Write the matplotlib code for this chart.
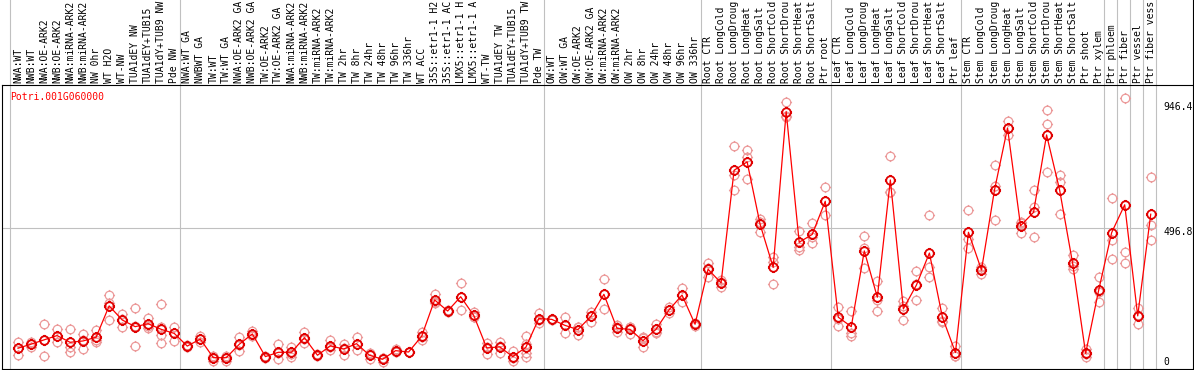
import matplotlib
matplotlib.use("Agg")
import matplotlib.pyplot as plt
import matplotlib.path as mpath
import matplotlib.transforms as mtrans
import numpy as np

# ---------------- data ----------------
gene_id = "Potri.001G060000"

labels_nw = ["NWA:WT", "NWB:WT", "NWA:OE-ARK2", "NWB:OE-ARK2", "NWA:miRNA-ARK2",
             "NWB:miRNA-ARK2", "NW 0hr", "WT H2O", "WT-NW", "TUA1dEY NW",
             "TUA1dEY+TUB15", "TUA1dY+TUB9 NW", "Pde NW"]
means_nw = [51, 66, 82, 98, 73, 78, 92, 208, 156, 131, 142, 121, 106]
reps_nw = [[75, 26, 52], [73, 57, 67], [140, 22, 82], [122, 73, 98], [122, 36, 57],
           [104, 47, 80], [119, 75, 82], [247, 156, 220], [177, 128, 160],
           [199, 60, 133], [164, 127, 135], [215, 99, 69, 130], [131, 79, 108]]

labels_tw = ["NWA:WT GA", "NWBWT GA", "TW:WT", "TW:WT GA", "NWA:OE-ARK2 GA",
             "NWB:OE-ARK2 GA", "TW:OE-ARK2", "TW:OE-ARK2 GA", "NWA:miRNA-ARK2",
             "NWB:miRNA-ARK2", "TW:miRNA-ARK2", "TW:miRNA-ARK2", "TW 2hr", "TW 8hr",
             "TW 24hr", "TW 48hr", "TW 96hr", "TW 336hr", "WT ACC",
             "35S::etr1-1 H2", "35S::etr1-1 AC", "LMX5::etr1-1 H", "LMX5::etr1-1 A",
             "WT-TW", "TUA1dEY TW", "TUA1dEY+TUB15", "TUA1dY+TUB9 TW", "Pde TW"]
means_tw = [59, 85, 16, 16, 66, 104, 20, 36, 36, 90, 25, 60, 48, 68, 25, 10, 42, 37,
            95, 230, 189, 242, 173, 52, 56, 20, 54, 161]
reps_tw = [[62, 55, 60], [96, 73, 86], [4, 20, 22], [4, 18, 24], [92, 42, 64],
           [116, 100, 96], [16, 24, 20], [66, 10, 32], [57, 20, 31], [112, 72, 86],
           [28, 22, 25], [82, 43, 55], [66, 25, 53], [93, 43, 68], [30, 12, 33],
           [1, 14, 15], [47, 38, 41], [37, 36, 38], [112, 80, 93], [251, 222, 217],
           [193, 184, 190], [293, 193, 240], [187, 165, 167], [69, 30, 57],
           [75, 35, 58], [42, 4, 14], [98, 32, 20, 66], [180, 146, 157]]

labels_ow = ["OW:WT", "OW:WT GA", "OW:OE-ARK2", "OW:OE-ARK2 GA", "OW:miRNA-ARK2",
             "OW:miRNA-ARK2", "OW 2hr", "OW 8hr", "OW 24hr", "OW 48hr", "OW 96hr",
             "OW 336hr"]
means_ow = [158, 136, 120, 169, 251, 125, 121, 79, 121, 193, 248, 140]
reps_ow = [[160, 156, 158], [166, 106, 136], [131, 100, 129], [187, 150, 170],
           [307, 195, 251], [137, 110, 128], [131, 104, 128], [94, 54, 89],
           [141, 109, 113], [205, 180, 194], [273, 221, 250], [146, 134, 140]]

labels_root = ["Root CTR", "Root LongCold", "Root LongDroug", "Root LongHeat",
               "Root LongSalt", "Root ShortCold", "Root ShortDrou", "Root ShortHeat",
               "Root ShortSalt", "Ptr root"]
means_root = [344, 293, 711, 742, 510, 351, 928, 444, 473, 596]
reps_root = [[368, 316, 348], [304, 279, 296], [801, 638, 694], [786, 759, 677],
             [529, 481, 520], [390, 372, 288], [963, 912, 909], [487, 428, 415],
             [514, 440, 465], [648, 544, 596]]

labels_leaf = ["Leaf CTR", "Leaf LongCold", "Leaf LongDroug", "Leaf LongHeat",
               "Leaf LongSalt", "Leaf ShortCold", "Leaf ShortDrou", "Leaf ShortHeat",
               "Leaf ShortSalt", "Ptr leaf"]
means_leaf = [166, 131, 412, 240, 675, 197, 285, 404, 166, 35]
reps_leaf = [[203, 135, 160], [190, 106, 96], [467, 347, 422], [300, 190, 230],
             [763, 632, 630], [226, 156, 209], [337, 230, 288], [545, 351, 314],
             [199, 147, 152], [60, 22, 23]]

labels_stem = ["Stem CTR", "Stem LongCold", "Stem LongDroug", "Stem LongHeat",
               "Stem LongSalt", "Stem ShortCold", "Stem ShortDrou", "Stem ShortHeat",
               "Stem ShortSalt", "Ptr shoot", "Ptr xylem"]
means_stem = [481, 341, 638, 868, 505, 555, 842, 638, 366, 32, 266]
reps_stem = [[564, 422, 457], [325, 345, 353], [729, 653, 527], [894, 842, 868],
             [520, 480, 515], [638, 574, 462], [933, 881, 703], [693, 666, 548],
             [397, 345, 356], [47, 20, 29], [316, 224, 258]]

labels_tissue = ["Ptr phloem", "Ptr fiber", "Ptr vessel", "Ptr fiber vess"]
means_tissue = [480, 583, 171, 548]
reps_tissue = [[607, 452, 381], [978, 409, 366], [199, 140, 174], [685, 508, 452]]

ytick_values = [946.4, 496.8, 0]
ytick_labels = ["946.4", "496.8", "0"]

groups = [(labels_nw, means_nw, reps_nw), (labels_tw, means_tw, reps_tw),
          (labels_ow, means_ow, reps_ow), (labels_root, means_root, reps_root),
          (labels_leaf, means_leaf, reps_leaf), (labels_stem, means_stem, reps_stem)]
groups += [([l], [m], [r]) for l, m, r in zip(labels_tissue, means_tissue, reps_tissue)]

labels, means, reps, bounds = [], [], [], [0]
for gl, gm, gr in groups:
    labels += gl
    means += gm
    reps += gr
    bounds.append(bounds[-1] + len(gl))

x = np.arange(len(labels))

# ---------------- figure ----------------
W, H = 1194, 370
fig = plt.figure(figsize=(W / 100, H / 100), dpi=100)

def px_axes(l, t, r, b):
    return fig.add_axes([l / W, 1 - b / H, (r - l) / W, (b - t) / H])

FONT = "DejaVu Sans Mono"
FS = 7
GRID = "#C0C0C0"
xlim = ((2 - 18) / 13.02, (1193 - 18) / 13.02)
bnd_x = [b - 0.58 for b in bounds]

# label strip
lax = px_axes(2, 0, 1193, 85)
lax.set_xlim(*xlim)
lax.set_ylim(0, 85)
for s in ["left", "top", "bottom"]:
    lax.spines[s].set_visible(False)
lax.spines["right"].set_linewidth(0.8)
lax.set_xticks([])
lax.set_yticks([])
for bx in bnd_x:
    lax.axvline(bx, color=GRID, lw=0.8)
for xi, lab in zip(x, labels):
    lax.text(xi, 2, lab, rotation=90, ha="center", va="bottom",
             family=FONT, fontsize=FS, color="black")

# main plot
ax = px_axes(2, 85, 1193, 369)
ax.set_xlim(*xlim)
ax.set_ylim(-26.0, 1027.1)
ax.set_xticks([])
ax.set_yticks([])
for s in ax.spines.values():
    s.set_linewidth(0.8)
    s.set_color("black")
for bx in bnd_x:
    ax.axvline(bx, color=GRID, lw=0.8, zorder=0)
ax.hlines(496.8, xlim[0], bnd_x[-1], color=GRID, lw=0.8, zorder=0)

# custom marker: circle with four outer ticks
circ = mpath.Path.unit_circle()
tv = [(0, 1), (0, 1.3), (0, -1), (0, -1.3), (1, 0), (1.3, 0), (-1, 0), (-1.3, 0)]
tc = [mpath.Path.MOVETO, mpath.Path.LINETO] * 4
mk = mpath.Path.make_compound_path(circ, mpath.Path(tv, tc))

rx = [xi for xi, r in zip(x, reps) for _ in r]
ry = [v for r in reps for v in r]
ax.plot(rx, ry, linestyle="none", marker=mk, markersize=8, markerfacecolor="none",
        markeredgecolor="#EC9A9A", markeredgewidth=0.9, zorder=2)
ax.plot(x, means, color="red", lw=0.9, zorder=3)
ax.plot(x, means, linestyle="none", marker=mk, markersize=8, markerfacecolor="none",
        markeredgecolor="#E00000", markeredgewidth=1.3, zorder=4)

# value labels on the right
ytr = ax.get_yaxis_transform()
for v, t in zip(ytick_values, ytick_labels):
    off = -4 if t == "496.8" else 0
    tr = mtrans.offset_copy(ytr, fig=fig, x=0, y=off, units="dots")
    ax.text((1163 - 2) / 1191, v, t, transform=tr, ha="left", va="center",
            family=FONT, fontsize=FS, color="black")

ax.text((10 - 2) / 1191, 1 - (97 - 85) / 284, gene_id, transform=ax.transAxes,
        ha="left", va="center", family=FONT, fontsize=FS, color="red")

fig.savefig("out.png", dpi=100)
